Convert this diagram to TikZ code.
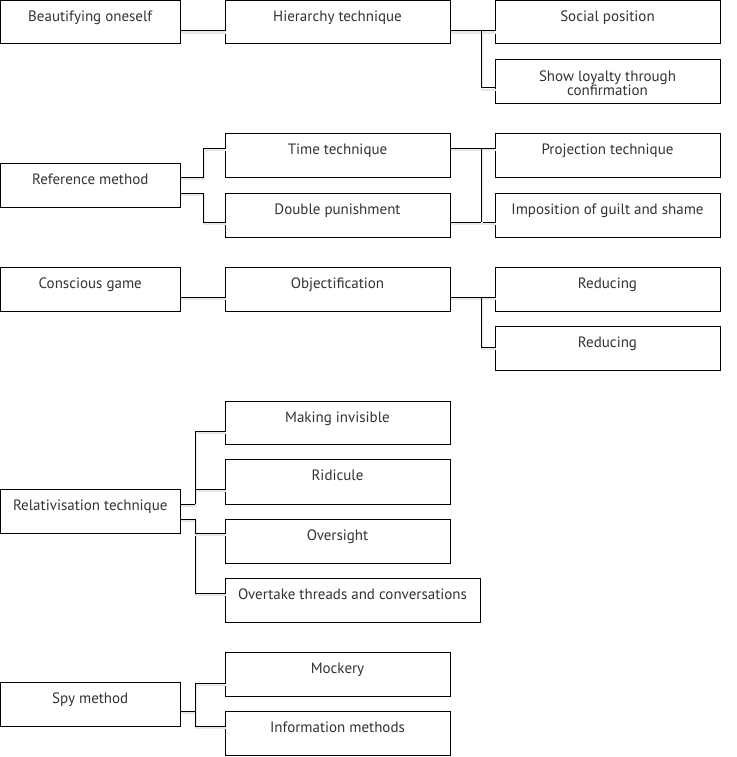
\documentclass[tikz,border=0pt]{standalone}
\usepackage{fontspec}
\setmainfont{PT Sans}
\begin{document}
\begin{tikzpicture}[x=1pt,y=1pt,
  box/.style={draw=black, line width=1pt, fill=white, rectangle, inner sep=0pt, outer sep=0pt},
  txt/.style={text=black!80, font=\fontsize{15}{14}\selectfont, inner sep=0pt, anchor=base, align=center},
  conn/.style={draw=black, line width=1pt,
    preaction={draw=black!9, line width=2.4pt, transform canvas={shift={(1pt,-2pt)}}}}]
\useasboundingbox (0,0) rectangle (736,-757);
\newcommand\bx[7][21.5]{%
  \node[box, minimum width={#5-#3}, minimum height={#6-#4}] (#2) at ({(#3+#5)/2},{-(#4+#6)/2}) {};
  \node[txt] (#2t) at ({(#3+#5)/2},{-(#4+#1)}) {#7};
}
% boxes
\bx{b1}{0.5}{0.5}{180}{44}{Beautifying oneself}
\bx{b2}{225}{0.5}{450}{44}{Hierarchy technique}
\bx{b3}{495}{0.5}{720}{44}{Social position}
\bx[35.5]{b4}{495}{60}{720}{104}{Show loyalty through\\confirmation}
\bx{r1}{0.5}{163}{180}{207}{Reference method}
\bx{r2}{225}{133}{450}{177}{Time technique}
\bx{r3}{225}{193}{450}{237}{Double punishment}
\bx{r4}{495}{133}{720}{177}{Projection technique}
\bx{r5}{495}{193}{720}{237}{Imposition of guilt and shame}
\bx{c1}{0.5}{267}{180}{311}{Conscious game}
\bx{c2}{225}{267}{450}{311}{Objectification}
\bx{c3}{495}{267}{720}{311}{Reducing}
\bx{c4}{495}{326}{720}{370}{Reducing}
\bx{t1}{0.5}{489}{180}{533}{Relativisation technique}
\bx{t2}{225}{401}{450}{444}{Making invisible}
\bx{t3}{225}{459}{450}{504}{Ridicule}
\bx{t4}{225}{519}{450}{563}{Oversight}
\bx{t5}{225}{578}{480}{622}{Overtake threads and conversations}
\bx{s1}{0.5}{682}{180}{726}{Spy method}
\bx{s2}{225}{652}{450}{696}{Mockery}
\bx{s3}{225}{711}{450}{755}{Information methods}
% row 1
\draw[conn] ([yshift=-30]b1.north east) -- ([yshift=-30]b2.north west);
\draw[conn] ([yshift=-30]b2.north east) -- ([yshift=-30]b3.north west);
\draw[conn] ([xshift=31,yshift=-30]b2.north east) |- ([yshift=-28]b4.north west);
% row 2
\draw[conn] ([yshift=-14]r1.north east) -- ++(23,0) |- ([yshift=-15]r2.north west);
\draw[conn] ([yshift=-30]r1.north east) -- ++(23,0) |- ([yshift=-29]r3.north west);
\draw[conn] ([yshift=-15]r2.north east) -- ([yshift=-15]r4.north west);
\draw[conn] ([yshift=-29]r3.north east) -- ([yshift=-29]r5.north west);
\draw[conn] ([xshift=31,yshift=-15]r2.north east) -- ([xshift=31,yshift=-29]r3.north east);
% row 3
\draw[conn] ([yshift=-30]c1.north east) -- ([yshift=-30]c2.north west);
\draw[conn] ([yshift=-30]c2.north east) -- ([yshift=-30]c3.north west);
\draw[conn] ([xshift=31,yshift=-30]c2.north east) |- ([yshift=-21]c4.north west);
% row 4
\draw[conn] ([yshift=-15]t1.north east) -- ++(15,0) |- ([yshift=-30]t2.north west);
\draw[conn] ([xshift=15,yshift=-15]t1.north east) |- ([yshift=-30]t3.north west);
\draw[conn] ([yshift=-30]t1.north east) -- ++(15,0) |- ([yshift=-15]t5.north west);
\draw[conn] ([xshift=15,yshift=-30]t1.north east) |- ([yshift=-14]t4.north west);
% row 5
\draw[conn] ([yshift=-29]s1.north east) -- ++(15,0) |- ([yshift=-31]s2.north west);
\draw[conn] ([xshift=15,yshift=-29]s1.north east) |- ([yshift=-15]s3.north west);
\end{tikzpicture}
\end{document}
